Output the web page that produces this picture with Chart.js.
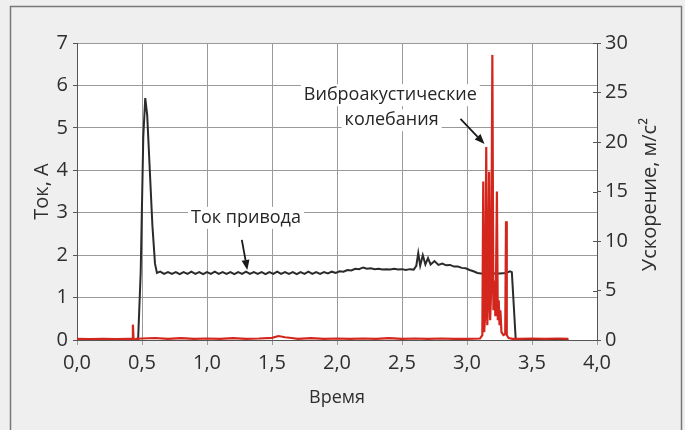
<!DOCTYPE html>
<html>
<head>
<meta charset="utf-8">
<script src="https://cdn.jsdelivr.net/npm/chart.js@4"></script>
<style>
html,body{margin:0;padding:0;background:#eeefee;}
canvas{display:block;}
</style>
</head>
<body>
<canvas id="c" width="685" height="430"></canvas>
<script>
// ---- Data ----
const xTickLabels = ['0,0','0,5','1,0','1,5','2,0','2,5','3,0','3,5','4,0'];

// Ток привода (A), left axis
const curT = [0.00,0.47,0.49,0.51,0.525,0.54,0.56,0.58,0.60,0.615,
  0.64,0.67,0.70,0.73,0.76,0.79,0.82,0.85,0.88,0.91,0.94,0.97,1.00,1.03,1.06,1.09,1.12,1.15,1.18,1.21,
  1.24,1.27,1.30,1.33,1.36,1.39,1.42,1.45,1.48,1.51,1.54,1.57,1.60,1.63,1.66,1.69,1.72,1.75,1.78,1.81,
  1.84,1.87,1.90,1.93,1.96,1.99,2.02,2.05,2.08,2.11,2.14,2.17,2.20,2.23,2.26,2.29,2.32,2.35,2.38,2.41,
  2.44,2.47,2.50,2.53,2.56,2.59,2.61,2.625,2.64,2.66,2.68,2.70,2.72,2.75,2.78,2.81,2.84,2.87,2.90,2.93,
  2.96,2.99,3.02,3.05,3.08,3.11,3.15,3.20,3.25,3.30,3.33,3.345,3.375,3.78];
const curA = [0.00,0.00,1.60,4.80,5.70,5.30,4.00,2.70,1.80,1.58,
  1.61,1.56,1.60,1.56,1.60,1.55,1.60,1.56,1.61,1.56,1.60,1.55,1.60,1.56,1.61,1.56,1.60,1.56,1.60,1.55,
  1.60,1.56,1.61,1.56,1.60,1.56,1.60,1.55,1.60,1.56,1.61,1.56,1.60,1.56,1.60,1.55,1.60,1.56,1.61,1.56,
  1.60,1.56,1.60,1.57,1.61,1.58,1.62,1.61,1.65,1.64,1.68,1.67,1.71,1.68,1.69,1.67,1.68,1.66,1.67,1.66,
  1.68,1.66,1.67,1.65,1.67,1.66,1.75,2.05,1.75,2.00,1.78,1.93,1.78,1.86,1.77,1.80,1.76,1.77,1.73,1.73,
  1.70,1.69,1.65,1.62,1.58,1.57,1.56,1.57,1.57,1.58,1.62,1.60,0.00,0.00];

// Виброакустические колебания (м/с²), right axis
const accT = [0.00,0.10,0.20,0.30,0.40,0.425,0.43,0.435,0.445,0.455,0.50,0.60,0.70,0.80,0.90,1.00,1.10,1.20,1.30,1.40,
  1.50,1.55,1.60,1.65,1.70,1.80,1.90,2.00,2.10,2.20,2.30,2.40,2.50,2.60,2.70,2.80,2.90,3.00,3.10,
  3.118,3.125,3.132,3.140,3.148,3.156,3.163,3.170,3.178,3.186,3.195,3.203,3.210,3.218,3.222,3.230,3.237,3.244,3.250,3.257,3.265,
  3.280,3.294,3.300,3.306,3.320,3.350,3.400,3.500,3.600,3.700,3.780];
const accV = [0.12,0.10,0.12,0.10,0.12,0.12,1.55,0.12,0.00,0.12,0.15,0.20,0.12,0.18,0.12,0.15,0.12,0.18,0.12,0.15,
  0.22,0.40,0.28,0.20,0.12,0.18,0.12,0.15,0.12,0.15,0.12,0.18,0.12,0.15,0.12,0.15,0.12,0.12,0.15,
  0.50,16.0,0.80,2.50,19.5,1.50,4.00,17.0,2.00,5.00,28.8,3.00,6.00,2.50,4.50,15.0,2.00,4.00,1.50,3.00,0.80,
  0.50,0.60,12.0,0.50,0.20,0.12,0.12,0.15,0.12,0.15,0.12];

// ---- Annotations (data units) ----
const annTexts = [
  {text:'Ток привода', x:1.30, y:2.88},
  {text:'Виброакустические', x:2.41, y:5.77},
  {text:'колебания', x:2.42, y:5.18}
];
const annArrows = [
  {from:[1.268,2.36], to:[1.31,1.65]},
  {from:[2.95,5.21], to:[3.135,4.62]}
];

const FONT = "'Open Sans', 'DejaVu Sans', sans-serif";
const TXT = '#2e2e2e';
const GRID = '#9a9a9a';
const AXIS = '#555555';

const bgPlugin = {
  id: 'bg',
  beforeDraw(chart) {
    const {ctx, chartArea: a, width, height} = chart;
    ctx.save();
    ctx.fillStyle = '#eeefee';
    ctx.fillRect(0, 0, width, height);
    ctx.strokeStyle = '#777777';
    ctx.lineWidth = 1.5;
    ctx.strokeRect(10.5, 6.5, 671, height + 10);
    ctx.fillStyle = '#ffffff';
    ctx.fillRect(a.left, a.top, a.right - a.left, a.bottom - a.top);
    ctx.restore();
  },
  afterDatasetsDraw(chart) {
    const {ctx, chartArea: a} = chart;
    const xs = chart.scales.x, ys = chart.scales.y, y2 = chart.scales.y2;
    ctx.save();
    // inner part of right axis ticks
    ctx.strokeStyle = AXIS;
    ctx.lineWidth = 1;
    y2.ticks.forEach(t => {
      const py = Math.round(y2.getPixelForValue(t.value)) + 0.5;
      ctx.beginPath();
      ctx.moveTo(a.right - 4, py);
      ctx.lineTo(a.right, py);
      ctx.stroke();
    });
    // annotation texts with white backgrounds
    ctx.font = "18px " + FONT;
    ctx.textAlign = 'center';
    ctx.textBaseline = 'middle';
    annTexts.forEach(t => {
      const px = xs.getPixelForValue(t.x), py = ys.getPixelForValue(t.y);
      const w = ctx.measureText(t.text).width;
      ctx.fillStyle = '#ffffff';
      ctx.fillRect(px - w / 2 - 3, py - 11, w + 6, 22);
    });
    ctx.fillStyle = '#262626';
    annTexts.forEach(t => {
      ctx.fillText(t.text, xs.getPixelForValue(t.x), ys.getPixelForValue(t.y));
    });
    // arrows
    ctx.strokeStyle = '#1a1a1a';
    ctx.fillStyle = '#1a1a1a';
    ctx.lineWidth = 1.8;
    annArrows.forEach(ar => {
      const x1 = xs.getPixelForValue(ar.from[0]), y1 = ys.getPixelForValue(ar.from[1]);
      const x2 = xs.getPixelForValue(ar.to[0]), y2p = ys.getPixelForValue(ar.to[1]);
      const ang = Math.atan2(y2p - y1, x2 - x1);
      const hl = 10, hw = 4;
      const bx = x2 - hl * Math.cos(ang), by = y2p - hl * Math.sin(ang);
      ctx.beginPath();
      ctx.moveTo(x1, y1);
      ctx.lineTo(bx, by);
      ctx.stroke();
      ctx.beginPath();
      ctx.moveTo(x2, y2p);
      ctx.lineTo(bx + hw * Math.sin(ang), by - hw * Math.cos(ang));
      ctx.lineTo(bx - hw * Math.sin(ang), by + hw * Math.cos(ang));
      ctx.closePath();
      ctx.fill();
    });
    // right axis title (reads bottom to top)
    ctx.font = "20px " + FONT;
    ctx.fillStyle = TXT;
    ctx.translate(650, (a.top + a.bottom) / 2 + 3);
    ctx.rotate(-Math.PI / 2);
    ctx.textAlign = 'center';
    ctx.textBaseline = 'middle';
    ctx.fillText('Ускорение, м/с²', 0, 0);
    ctx.restore();
  }
};

new Chart(document.getElementById('c'), {
  type: 'line',
  data: {
    datasets: [
      {
        label: 'Ток привода',
        data: curT.map((t, i) => ({x: t, y: curA[i]})),
        yAxisID: 'y',
        borderColor: '#2b2b2b',
        borderWidth: 2,
        pointRadius: 0,
        tension: 0,
        order: 2
      },
      {
        label: 'Виброакустические колебания',
        data: accT.map((t, i) => ({x: t, y: accV[i]})),
        yAxisID: 'y2',
        borderColor: '#d3261c',
        borderWidth: 2.2,
        pointRadius: 0,
        tension: 0,
        order: 1
      }
    ]
  },
  options: {
    responsive: false,
    animation: false,
    devicePixelRatio: 1,
    layout: {padding: {top: 43, left: 0, right: 0, bottom: 0}},
    plugins: {legend: {display: false}, tooltip: {enabled: false}},
    scales: {
      x: {
        type: 'linear', min: 0, max: 4,
        afterFit(s) { s.height = 90; },
        afterBuildTicks(s) { s.ticks = xTickLabels.map((l, i) => ({value: i * 0.5})); },
        ticks: {
          stepSize: 0.5, autoSkip: false, maxRotation: 0, padding: 6,
          color: TXT, font: {family: FONT, size: 20},
          callback: (v, i) => xTickLabels[i]
        },
        grid: {color: GRID, lineWidth: 1, tickLength: 5, tickColor: GRID},
        border: {color: AXIS, width: 1},
        title: {display: true, text: 'Время', color: TXT, font: {family: FONT, size: 18}, padding: {top: 0, bottom: 21}}
      },
      y: {
        position: 'left', min: 0, max: 7,
        afterFit(s) { s.width = 77; },
        ticks: {stepSize: 1, padding: 5, color: TXT, font: {family: FONT, size: 20}},
        grid: {color: GRID, lineWidth: 1, tickLength: 4, tickColor: AXIS},
        border: {color: AXIS, width: 1},
        title: {display: true, text: 'Ток, А', color: TXT, font: {family: FONT, size: 20}, padding: {top: 30, bottom: 0}}
      },
      y2: {
        position: 'right', min: 0, max: 30,
        afterFit(s) { s.width = 88; },
        ticks: {stepSize: 5, padding: 4, color: TXT, font: {family: FONT, size: 20}},
        grid: {drawOnChartArea: false, tickLength: 4, tickColor: AXIS},
        border: {color: AXIS, width: 1}
      }
    }
  },
  plugins: [bgPlugin]
});
</script>
</body>
</html>
